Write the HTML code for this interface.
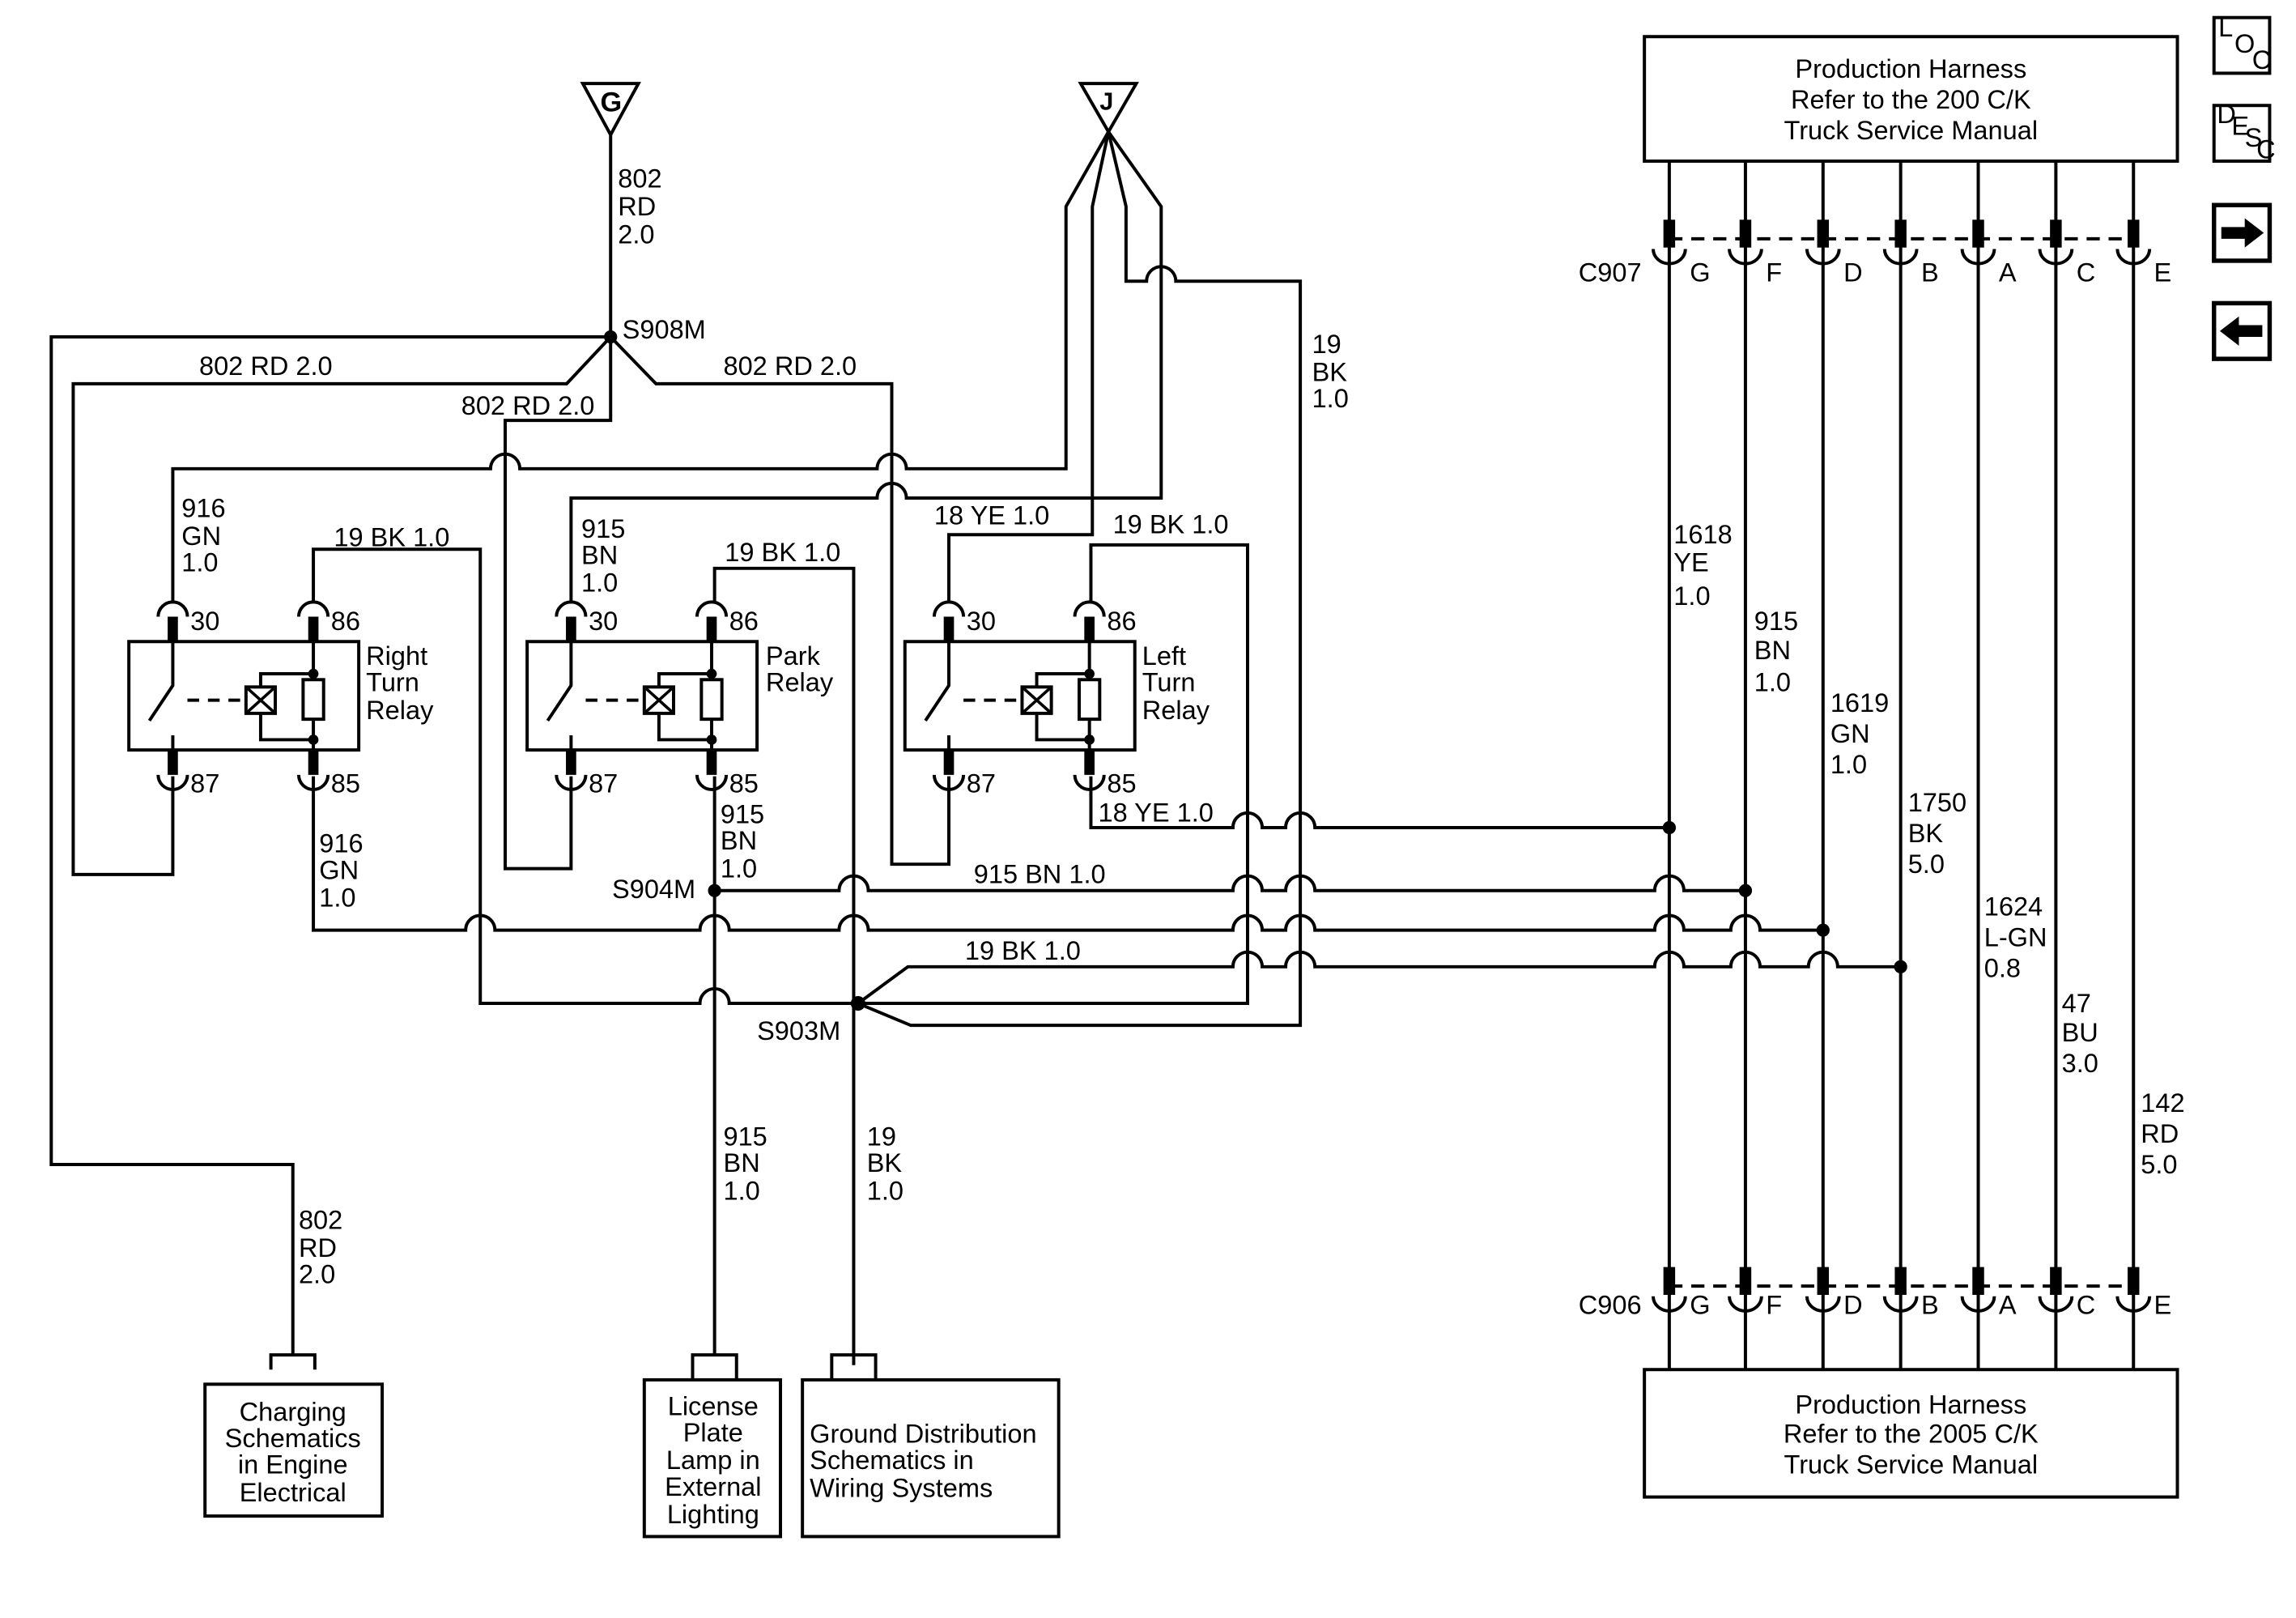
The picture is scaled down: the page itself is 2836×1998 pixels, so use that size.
<!DOCTYPE html>
<html><head><meta charset="utf-8"><style>
html,body{margin:0;padding:0;background:#fff;}
svg{display:block;}
text{font-family:"Liberation Sans",Arial,sans-serif;font-size:18px;fill:#000;}
</style></head><body>
<svg width="2836" height="1998" viewBox="0 0 1568 1104.6" preserveAspectRatio="none" xmlns="http://www.w3.org/2000/svg">
<defs>
<g id="relay">
  <rect x="-30" y="438" width="157" height="74" fill="none" stroke="#000" stroke-width="2.2"/>
  <rect x="-3.5" y="421" width="7" height="17" fill="#000"/>
  <rect x="92.5" y="421" width="7" height="17" fill="#000"/>
  <rect x="-3.5" y="512" width="7" height="17" fill="#000"/>
  <rect x="92.5" y="512" width="7" height="17" fill="#000"/>
  <path d="M-10,421 A10,10 0 0 1 10,421 M86,421 A10,10 0 0 1 106,421 M-10,529 A10,10 0 0 0 10,529 M86,529 A10,10 0 0 0 106,529" fill="none" stroke="#000" stroke-width="2.2"/>
  <path d="M0,438 V468 L-16,492 M0,502 V512" fill="none" stroke="#000" stroke-width="2.2"/>
  <path d="M10,478 H46" stroke="#000" stroke-width="2.2" stroke-dasharray="8,6"/>
  <path d="M96,438 V512 M60,469 V460 H96 M60,487 V505 H96" fill="none" stroke="#000" stroke-width="2.2"/>
  <rect x="50" y="469" width="20" height="18" fill="#fff" stroke="#000" stroke-width="2.2"/>
  <path d="M50,469 L70,487 M70,469 L50,487" stroke="#000" stroke-width="2"/>
  <rect x="89" y="464" width="14" height="27" fill="#fff" stroke="#000" stroke-width="2.2"/>
  <circle cx="96" cy="460" r="3.5"/><circle cx="96" cy="505" r="3.5"/>
  <text x="12" y="430">30</text><text x="108" y="430">86</text>
  <text x="12" y="541">87</text><text x="108" y="541">85</text>
</g>
<g id="hc">
  <rect x="-4" y="150" width="8" height="19" fill="#000"/>
  <path d="M-11,170 A11,10 0 0 0 11,170" fill="none" stroke="#000" stroke-width="2.2"/>
</g>
</defs>

<g fill="none" stroke="#000" stroke-width="2.2" stroke-linejoin="miter">
<path d="M398,57 H436 L417,92 Z"/>
<path d="M738,57 H776 L757,90 Z"/>
<path d="M417,92 V230"/>
<path d="M417,230 H35 V795 H200 V925"/>
<path d="M417,230 L387,262 H50 V597 H118 V530"/>
<path d="M417,230 V287 H345 V593 H390 V530"/>
<path d="M417,230 L448,262 H609 V590 H648 V530"/>
<path d="M118,412 V320 H335 A10,10 0 0 1 355,320 H599 A10,10 0 0 1 619,320 H728 V141 L757,90"/>
<path d="M390,412 V340 H599 A10,10 0 0 1 619,340 H793 V141 L757,90"/>
<path d="M648,412 V365 H746 V141 L757,90"/>
<path d="M757,90 L769,141 V192 H783 A10,10 0 0 1 803,192 H888 V700 H622 L586,685"/>
<path d="M214,412 V375 H328 V685 H478 A10,10 0 0 1 498,685 H586"/>
<path d="M488,412 V388 H583 V925"/>
<path d="M488,530 V925"/>
<path d="M745,412 V372 H852 V685 H586"/>
<path d="M745,530 V565 H842 A10,10 0 0 1 862,565 H878 A10,10 0 0 1 898,565 H1140"/>
<path d="M488,608 H573 A10,10 0 0 1 593,608 H842 A10,10 0 0 1 862,608 H878 A10,10 0 0 1 898,608 H1130 A10,10 0 0 1 1150,608 H1192"/>
<path d="M214,530 V635 H318 A10,10 0 0 1 338,635 H478 A10,10 0 0 1 498,635 H573 A10,10 0 0 1 593,635 H842 A10,10 0 0 1 862,635 H878 A10,10 0 0 1 898,635 H1130 A10,10 0 0 1 1150,635 H1182 A10,10 0 0 1 1202,635 H1245"/>
<path d="M586,685 L620,660 H842 A10,10 0 0 1 862,660 H878 A10,10 0 0 1 898,660 H1130 A10,10 0 0 1 1150,660 H1182 A10,10 0 0 1 1202,660 H1235 A10,10 0 0 1 1255,660 H1298"/>
<path d="M1140,110 V935 M1192,110 V935 M1245,110 V935 M1298,110 V935 M1351,110 V935 M1404,110 V935 M1457,110 V935"/>
<path d="M1140,163 H1457 M1140,878 H1457" stroke-dasharray="9,6"/>
<rect x="1123" y="25" width="364" height="85"/>
<rect x="1123" y="935" width="364" height="87"/>
<rect x="140" y="945" width="121" height="90"/>
<rect x="440" y="942" width="93" height="107"/>
<rect x="548" y="942" width="175" height="107"/>
<path d="M185,935 V925 H215 V935 M473,942 V925 H503 V942 M568,942 V925 H598 V942 M583,925 V932"/>
<rect x="1512" y="12" width="38" height="38"/>
<rect x="1512" y="72" width="38" height="38"/>
<rect x="1512" y="140" width="38" height="38" stroke-width="3"/>
<rect x="1512" y="207" width="38" height="38" stroke-width="3"/>
</g>
<g fill="#000">
<circle cx="417" cy="230" r="4.5"/>
<circle cx="488" cy="608" r="4.5"/>
<circle cx="586" cy="685" r="5"/>
<circle cx="1140" cy="565" r="4.5"/>
<circle cx="1192" cy="608" r="4.5"/>
<circle cx="1245" cy="635" r="4.5"/>
<circle cx="1298" cy="660" r="4.5"/>
<path d="M1517,155 H1533 V149 L1546,159 L1533,169 V163 H1517 Z"/>
<path d="M1545,222 H1529 V216 L1516,226 L1529,236 V230 H1545 Z"/>
</g>
<use href="#relay" x="118"/>
<use href="#relay" x="390"/>
<use href="#relay" x="648"/>
<g transform="translate(1140,0)"><use href="#hc"/></g>
<g transform="translate(1192,0)"><use href="#hc"/></g>
<g transform="translate(1245,0)"><use href="#hc"/></g>
<g transform="translate(1298,0)"><use href="#hc"/></g>
<g transform="translate(1351,0)"><use href="#hc"/></g>
<g transform="translate(1404,0)"><use href="#hc"/></g>
<g transform="translate(1457,0)"><use href="#hc"/></g>
<g transform="translate(1140,715)"><use href="#hc"/></g>
<g transform="translate(1192,715)"><use href="#hc"/></g>
<g transform="translate(1245,715)"><use href="#hc"/></g>
<g transform="translate(1298,715)"><use href="#hc"/></g>
<g transform="translate(1351,715)"><use href="#hc"/></g>
<g transform="translate(1404,715)"><use href="#hc"/></g>
<g transform="translate(1457,715)"><use href="#hc"/></g>

<text x="410" y="76" style="font-size:19px;font-weight:bold">G</text>
<text x="751" y="75" style="font-size:17px;font-weight:bold">J</text>
<text x="422" y="128">802</text><text x="422" y="147">RD</text><text x="422" y="166">2.0</text>
<text x="425" y="231">S908M</text>
<text x="136" y="256">802 RD 2.0</text>
<text x="494" y="256">802 RD 2.0</text>
<text x="315" y="283">802 RD 2.0</text>
<text x="896" y="241">19</text><text x="896" y="260">BK</text><text x="896" y="278">1.0</text>
<text x="124" y="353">916</text><text x="124" y="372">GN</text><text x="124" y="390">1.0</text>
<text x="228" y="373">19 BK 1.0</text>
<text x="397" y="367">915</text><text x="397" y="385">BN</text><text x="397" y="404">1.0</text>
<text x="495" y="383">19 BK 1.0</text>
<text x="638" y="358">18 YE 1.0</text>
<text x="760" y="364">19 BK 1.0</text>
<text x="250" y="454">Right</text><text x="250" y="472">Turn</text><text x="250" y="491">Relay</text>
<text x="523" y="454">Park</text><text x="523" y="472">Relay</text>
<text x="780" y="454">Left</text><text x="780" y="472">Turn</text><text x="780" y="491">Relay</text>
<text x="750" y="561">18 YE 1.0</text>
<text x="218" y="582">916</text><text x="218" y="600">GN</text><text x="218" y="619">1.0</text>
<text x="492" y="562">915</text><text x="492" y="580">BN</text><text x="492" y="599">1.0</text>
<text x="418" y="613">S904M</text>
<text x="665" y="603">915 BN 1.0</text>
<text x="659" y="655">19 BK 1.0</text>
<text x="517" y="710">S903M</text>
<text x="494" y="782">915</text><text x="494" y="800">BN</text><text x="494" y="819">1.0</text>
<text x="592" y="782">19</text><text x="592" y="800">BK</text><text x="592" y="819">1.0</text>
<text x="204" y="839">802</text><text x="204" y="858">RD</text><text x="204" y="876">2.0</text>
<g text-anchor="middle">
<text x="200" y="970">Charging</text><text x="200" y="988">Schematics</text><text x="200" y="1006">in Engine</text><text x="200" y="1025">Electrical</text>
<text x="487" y="966">License</text><text x="487" y="984">Plate</text><text x="487" y="1003">Lamp in</text><text x="487" y="1021">External</text><text x="487" y="1040">Lighting</text>
<text x="1305" y="53">Production Harness</text><text x="1305" y="74">Refer to the 200 C/K</text><text x="1305" y="95">Truck Service Manual</text>
<text x="1305" y="965">Production Harness</text><text x="1305" y="985">Refer to the 2005 C/K</text><text x="1305" y="1006">Truck Service Manual</text>
</g>
<text x="553" y="985">Ground Distribution</text><text x="553" y="1003">Schematics in</text><text x="553" y="1022">Wiring Systems</text>
<text x="1078" y="192">C907</text>
<text x="1154" y="192">G</text><text x="1206" y="192">F</text><text x="1259" y="192">D</text><text x="1312" y="192">B</text><text x="1365" y="192">A</text><text x="1418" y="192">C</text><text x="1471" y="192">E</text>
<text x="1078" y="897">C906</text>
<text x="1154" y="897">G</text><text x="1206" y="897">F</text><text x="1259" y="897">D</text><text x="1312" y="897">B</text><text x="1365" y="897">A</text><text x="1418" y="897">C</text><text x="1471" y="897">E</text>
<text x="1143" y="371">1618</text><text x="1143" y="390">YE</text><text x="1143" y="413">1.0</text>
<text x="1198" y="430">915</text><text x="1198" y="450">BN</text><text x="1198" y="472">1.0</text>
<text x="1250" y="486">1619</text><text x="1250" y="507">GN</text><text x="1250" y="528">1.0</text>
<text x="1303" y="554">1750</text><text x="1303" y="575">BK</text><text x="1303" y="596">5.0</text>
<text x="1355" y="625">1624</text><text x="1355" y="646">L-GN</text><text x="1355" y="667">0.8</text>
<text x="1408" y="691">47</text><text x="1408" y="711">BU</text><text x="1408" y="732">3.0</text>
<text x="1462" y="759">142</text><text x="1462" y="780">RD</text><text x="1462" y="801">5.0</text>
<g style="font-size:12px">
<text x="1515" y="25">L</text><text x="1526" y="36">O</text><text x="1538" y="47">C</text>
<text x="1514" y="84">D</text><text x="1524" y="92">E</text><text x="1533" y="100">S</text><text x="1541" y="108">C</text>
</g>
</svg>
</body></html>
